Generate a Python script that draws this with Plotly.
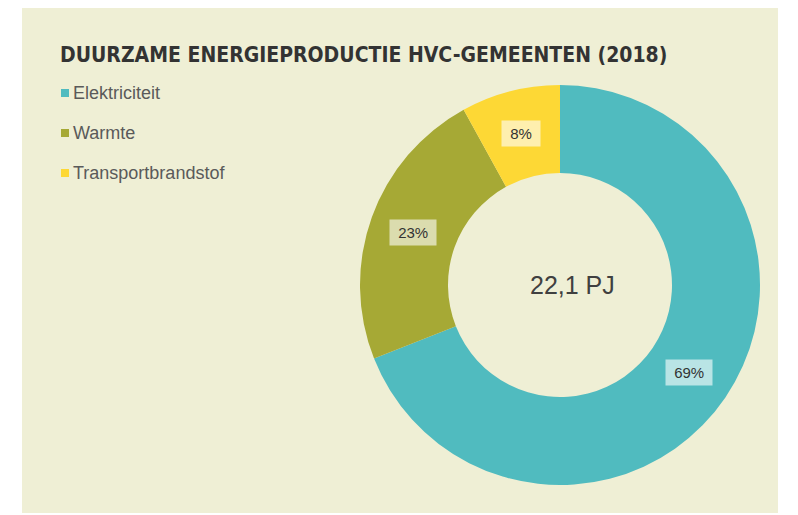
import math
import plotly.graph_objects as go

# ---- data ----
categories = ["Elektriciteit", "Warmte", "Transportbrandstof"]
shares = [69, 23, 8]            # percent
colors = ["#50BBBF", "#A6A935", "#FDD835"]
total_label = "22,1 PJ"
title_text = "DUURZAME ENERGIEPRODUCTIE HVC-GEMEENTEN (2018)"

# ---- layout constants (pixels, page coordinates; page body has 8px margin) ----
OFF = 8
W, H = 798 - OFF, 515 - OFF
BG = "#EFEFD5"
CX, CY, R = 560 - OFF, 285 - OFF, 200
HOLE = 0.56


def px_x(x):
    return x / W


def px_y(y):
    return 1 - y / H


fig = go.Figure()
fig.add_trace(go.Pie(
    labels=categories,
    values=shares,
    marker=dict(colors=colors, line=dict(width=0)),
    hole=HOLE,
    sort=False,
    direction="clockwise",
    rotation=0,
    textinfo="none",
    hoverinfo="label+percent",
    showlegend=False,
    domain=dict(x=[px_x(CX - R), px_x(CX + R)],
                y=[px_y(CY + R), px_y(CY - R)]),
))

annotations = []
# percentage labels at the middle of each ring segment
total = sum(shares)
cum = 0
r_lab = R * (1 + HOLE) / 2
for v in shares:
    theta = 2 * math.pi * (cum + v / 2) / total
    px = CX + r_lab * math.sin(theta)
    py = CY - r_lab * math.cos(theta)
    annotations.append(dict(
        x=px_x(px), y=px_y(py), xref="paper", yref="paper",
        text=f"&nbsp;{v}%&nbsp;", showarrow=False,
        font=dict(family="Liberation Sans, Arial, sans-serif", size=15, color="#333333"),
        bgcolor="rgba(255,255,255,0.6)", borderpad=4,
        xanchor="center", yanchor="middle",
    ))
    cum += v

# centre total
annotations.append(dict(
    x=px_x(CX + 12), y=px_y(CY), xref="paper", yref="paper",
    text=total_label, showarrow=False,
    font=dict(family="Liberation Sans, Arial, sans-serif", size=25, color="#404040"),
    xanchor="center", yanchor="middle",
))

# legend
LEG_X, LEG_Y0, LEG_DY, SQ = 61 - OFF, 93 - OFF, 40, 8
shapes = [dict(type="rect", xref="paper", yref="paper",
               x0=px_x(22 - OFF), x1=px_x(778 - OFF), y0=px_y(513 - OFF), y1=1,
               fillcolor=BG, line=dict(width=0), layer="below")]
for i, (cat, col) in enumerate(zip(categories, colors)):
    yc = LEG_Y0 + i * LEG_DY
    shapes.append(dict(type="rect", xref="paper", yref="paper",
                       x0=px_x(LEG_X), x1=px_x(LEG_X + SQ),
                       y0=px_y(yc + SQ / 2), y1=px_y(yc - SQ / 2),
                       fillcolor=col, line=dict(width=0)))
    annotations.append(dict(
        x=px_x(LEG_X + SQ + 2), y=px_y(yc), xref="paper", yref="paper",
        text=cat, showarrow=False,
        font=dict(family="Liberation Sans, Arial, sans-serif", size=18, color="#5a5a5a"),
        xanchor="left", yanchor="middle",
    ))

fig.update_layout(
    width=W, height=H,
    margin=dict(l=0, r=0, t=0, b=0),
    paper_bgcolor="white",
    plot_bgcolor="white",
    title=dict(text=f"<b>{title_text}</b>", x=px_x(60 - OFF), xanchor="left",
               y=px_y(55 - OFF), yanchor="middle",
               font=dict(family="Liberation Sans Narrow, DejaVu Sans Condensed, Roboto, sans-serif",
                         size=21, color="#333333")),
    shapes=shapes,
    annotations=annotations,
)

fig.write_html("out.html")
